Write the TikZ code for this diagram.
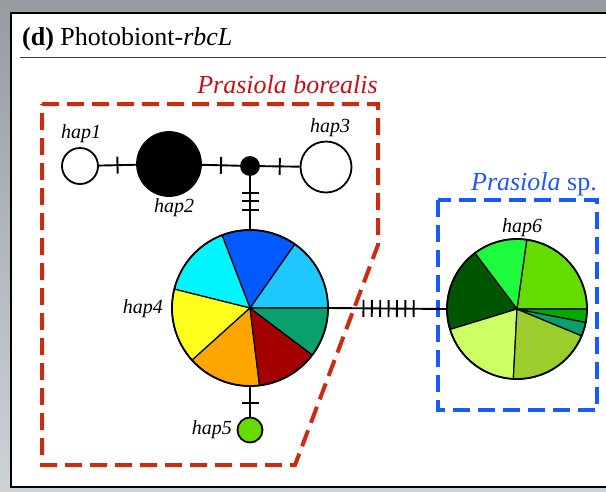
\documentclass[tikz,border=0pt]{standalone}
\usepackage{fontspec}
\setmainfont{Liberation Serif}
\usetikzlibrary{decorations.markings}
\definecolor{bgtop}{RGB}{150,156,162}
\definecolor{bgbot}{RGB}{205,210,215}
\definecolor{redd}{RGB}{200,45,15}
\definecolor{redt}{RGB}{200,15,25}
\definecolor{blued}{RGB}{25,90,255}
\definecolor{bluet}{RGB}{35,85,255}
\definecolor{pa}{RGB}{30,200,255}
\definecolor{pb}{RGB}{0,90,255}
\definecolor{pc}{RGB}{0,245,255}
\definecolor{pd}{RGB}{255,255,30}
\definecolor{pe}{RGB}{255,165,0}
\definecolor{pf}{RGB}{165,0,0}
\definecolor{pg}{RGB}{10,160,110}
\definecolor{qa}{RGB}{100,220,0}
\definecolor{qb}{RGB}{30,250,60}
\definecolor{qc}{RGB}{0,85,0}
\definecolor{qd}{RGB}{205,255,100}
\definecolor{qe}{RGB}{155,205,45}
\definecolor{qf}{RGB}{10,160,110}
\definecolor{qg}{RGB}{0,170,0}
\definecolor{h5}{RGB}{100,220,0}
\tikzset{
  conn/.style={line width=1.9pt},
  hapnode/.style={circle, draw, line width=1.8pt, inner sep=0pt},
  lab/.style={font=\fontsize{20}{24}\selectfont\itshape, inner sep=0pt},
  big/.style={font=\fontsize{26}{30}\selectfont, inner sep=0pt},
  onetick/.style={postaction={decorate}, decoration={markings,
      mark=at position #1 with {\draw[line width=1.9pt] (0,-8.5pt) -- (0,8.5pt);}}},
  manyticks/.style={postaction={decorate}, decoration={markings,
      mark=between positions #1 with {\draw[line width=1.9pt] (0,-8.5pt) -- (0,8.5pt);}}},
  slice/.style={draw=black, line width=1.2pt}
}
\begin{document}
\begin{tikzpicture}[x=1pt,y=-1pt]
\useasboundingbox (0,0) rectangle (606,491);
\shade[top color=bgtop, bottom color=bgbot] (0,0) rectangle (606,491);
\fill[white] (11,13) rectangle (612,487);
\draw[line width=2pt] (612,13) -- (11,13) -- (11,487) -- (612,487);

\node[big, anchor=base west] (title) at (22,45) {\textbf{(d)} Photobiont-\textit{rbcL}};
\draw[line width=0.8pt, black!75] (20,57) -- (610,57);

% group outlines
\draw[redd, line width=4pt, dash pattern=on 17pt off 8pt, line join=miter]
  (42,104) -- (378,104) -- (378,245) -- (295,465) -- (42,465) -- cycle;
\node[big, anchor=base, text=redt, font=\fontsize{26}{30}\selectfont\itshape] (pb) at (287.5,93) {Prasiola borealis};
\draw[blued, line width=4pt, dash pattern=on 17pt off 8pt] (438,200) rectangle (597,410);
\node[big, anchor=base east, text=bluet] (ps) at (597,190) {\textit{Prasiola} sp.};

% pies
\coordinate (c4) at (250,308);
\foreach \a/\b/\c in {0/55/pa, 55/111/pb, 111/166/pc, 166/222/pd, 222/277/pe, 277/323/pf, 323/360/pg}
  \filldraw[fill=\c, slice] (c4) -- ++(\a:78pt) arc[start angle=\a, end angle=\b, radius=78pt] -- cycle;
\coordinate (c6) at (517,309);
\foreach \a/\b/\c in {0/82/qa, 82/127/qb, 127/197/qc, 197/267/qd, 267/337.5/qe, 337.5/349/qf, 349/360/qg}
  \filldraw[fill=\c, slice] (c6) -- ++(\a:70pt) arc[start angle=\a, end angle=\b, radius=70pt] -- cycle;

% haplotype nodes
\node[hapnode, fill=white, minimum size=36pt] (hap1) at (80,166) {};
\node[hapnode, fill=black, minimum size=64pt] (hap2) at (169,164) {};
\node[hapnode, fill=black, minimum size=18pt] (mv) at (250,166) {};
\node[hapnode, fill=white, minimum size=51pt] (hap3) at (326,167) {};
\node[hapnode, minimum size=156pt] (hap4) at (c4) {};
\node[hapnode, fill=h5, minimum size=25pt] (hap5) at (250,430) {};
\node[hapnode, minimum size=140pt] (hap6) at (c6) {};

% connectors
\draw[conn, onetick=0.5] (hap1) -- (hap2);
\draw[conn, onetick=0.5] (hap2) -- (mv);
\draw[conn, onetick=0.5] (mv) -- (hap3);
\draw[conn, manyticks={0.32 and 0.66 step 0.16}] (mv) -- (hap4);
\draw[conn, manyticks={0.295 and 0.73 step 0.0714}] (hap4.east) -- (hap6.west);
\draw[conn, onetick=0.55] (hap4) -- (hap5);

% labels
\node[lab, anchor=base] (l1) at (81,138) {hap1};
\node[lab, anchor=base] (l2) at (174,212) {hap2};
\node[lab, anchor=base] (l3) at (330,132) {hap3};
\node[lab, anchor=base east] (l4) at (163,313) {hap4};
\node[lab, anchor=base east] (l5) at (232,434) {hap5};
\node[lab, anchor=base] (l6) at (522,232) {hap6};
\end{tikzpicture}
\end{document}
